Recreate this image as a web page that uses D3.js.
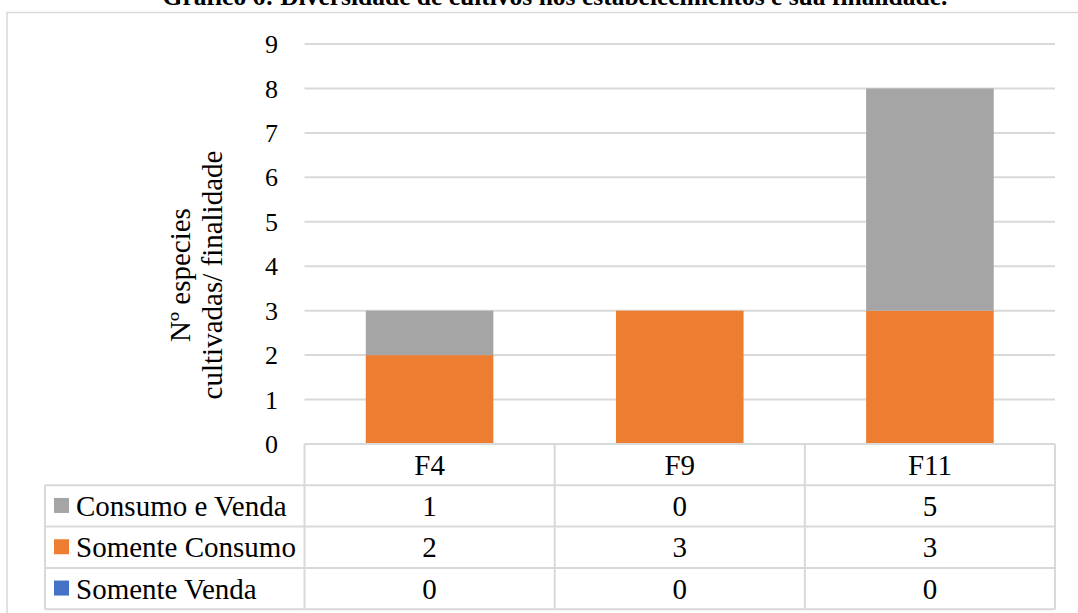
<!DOCTYPE html>
<html>
<head>
<meta charset="utf-8">
<script src="https://cdn.jsdelivr.net/npm/d3@7"></script>
<style>
  body { margin: 0; background: #fff; }
  text { font-family: "Liberation Serif", "Times New Roman", serif; fill: #000; }
</style>
</head>
<body>
<div id="chart"></div>
<script>
var categories = ['F4', 'F9', 'F11'];
var seriesNames = ['Consumo e Venda', 'Somente Consumo', 'Somente Venda'];
var consumoVenda = [1, 0, 5];
var somenteConsumo = [2, 3, 3];
var somenteVenda = [0, 0, 0];
var yTicks = [0, 1, 2, 3, 4, 5, 6, 7, 8, 9];
var colours = ['#A5A5A5', '#ED7D31', '#4472C4'];

var width = 1078, height = 613;
var svg = d3.select('#chart').append('svg').attr('width', width).attr('height', height);

// title, cut at the top of the picture like in the source
svg.append('text')
  .attr('x', 555).attr('y', 5)
  .attr('text-anchor', 'middle')
  .style('font-size', '25.5px').style('font-weight', 'bold')
  .text('Gráfico 6: Diversidade de cultivos nos estabelecimentos e sua finalidade.');

// chart area border
svg.append('rect')
  .attr('x', 7).attr('y', 12.5).attr('width', 1085).attr('height', 620)
  .attr('fill', 'none').attr('stroke', '#D9D9D9').attr('stroke-width', 1.5);

var x = d3.scaleBand().domain(categories).range([304.5, 1055]).paddingInner(0.49).paddingOuter(0.245);
var y = d3.scaleLinear().domain([0, 9]).range([444, 44]);

// grid lines
svg.append('g').selectAll('line')
  .data(yTicks.filter(function(d) { return d > 0; }))
  .enter().append('line')
  .attr('x1', 304.5).attr('x2', 1055)
  .attr('y1', function(d) { return y(d); }).attr('y2', function(d) { return y(d); })
  .attr('stroke', '#D9D9D9').attr('stroke-width', 2);

// tick labels
svg.append('g').selectAll('text')
  .data(yTicks)
  .enter().append('text')
  .attr('x', 278).attr('y', function(d) { return y(d); })
  .attr('dy', '0.35em')
  .attr('text-anchor', 'end')
  .style('font-size', '26px')
  .text(function(d) { return d; });

// axis title
var yt = svg.append('text')
  .attr('transform', 'translate(0,275) rotate(-90)')
  .attr('text-anchor', 'middle')
  .style('font-size', '29px');
yt.append('tspan').attr('x', 0).attr('y', 190).text('Nº especies');
yt.append('tspan').attr('x', 0).attr('y', 222).text('cultivadas/ finalidade');

// stacked bars (bottom: Somente Venda, then Somente Consumo, then Consumo e Venda)
var rows = categories.map(function(c, i) {
  return { cat: c, venda: somenteVenda[i], consumo: somenteConsumo[i], ambos: consumoVenda[i] };
});
var stack = d3.stack().keys(['venda', 'consumo', 'ambos'])(rows);
var stackColours = { venda: colours[2], consumo: colours[1], ambos: colours[0] };

svg.append('g').selectAll('g')
  .data(stack)
  .enter().append('g')
  .attr('fill', function(d) { return stackColours[d.key]; })
  .selectAll('rect')
  .data(function(d) { return d; })
  .enter().append('rect')
  .attr('x', function(d) { return x(d.data.cat); })
  .attr('width', x.bandwidth())
  .attr('y', function(d) { return y(d[1]); })
  .attr('height', function(d) { return y(d[0]) - y(d[1]); });

// data table
var rowH = 41.3;
var top0 = 444;
var tableColour = '#D9D9D9';
var t = svg.append('g');
var colEdges = [304.5].concat(categories.map(function(c) { return x(c) - x.step() * x.paddingInner() / 2 + x.step(); }));

// horizontal lines
[0, 1, 2, 3, 4].forEach(function(r) {
  t.append('line')
    .attr('x1', r === 0 ? 304.5 : 45).attr('x2', 1055)
    .attr('y1', top0 + r * rowH).attr('y2', top0 + r * rowH)
    .attr('stroke', tableColour).attr('stroke-width', 2);
});
// vertical lines
t.append('line').attr('x1', 45).attr('x2', 45).attr('y1', top0 + rowH).attr('y2', top0 + 4 * rowH)
  .attr('stroke', tableColour).attr('stroke-width', 2);
colEdges.forEach(function(e) {
  t.append('line').attr('x1', e).attr('x2', e).attr('y1', top0).attr('y2', top0 + 4 * rowH)
    .attr('stroke', tableColour).attr('stroke-width', 2);
});

// category labels
t.selectAll('text.cat')
  .data(categories)
  .enter().append('text')
  .attr('class', 'cat')
  .attr('x', function(d) { return x(d) + x.bandwidth() / 2; })
  .attr('y', top0 + rowH / 2).attr('dy', '0.35em')
  .attr('text-anchor', 'middle')
  .style('font-size', '29px')
  .text(function(d) { return d; });

var tableValues = [consumoVenda, somenteConsumo, somenteVenda];
seriesNames.forEach(function(name, r) {
  var cy = top0 + (r + 1) * rowH + rowH / 2;
  t.append('rect').attr('x', 54).attr('y', cy - 8).attr('width', 15).attr('height', 15)
    .attr('fill', colours[r]);
  t.append('text').attr('x', 76).attr('y', cy).attr('dy', '0.35em')
    .style('font-size', '29px').text(name);
  t.selectAll('text.v' + r)
    .data(tableValues[r])
    .enter().append('text')
    .attr('x', function(d, i) { return x(categories[i]) + x.bandwidth() / 2; })
    .attr('y', cy).attr('dy', '0.35em')
    .attr('text-anchor', 'middle')
    .style('font-size', '29px')
    .text(function(d) { return d; });
});
</script>
</body>
</html>
